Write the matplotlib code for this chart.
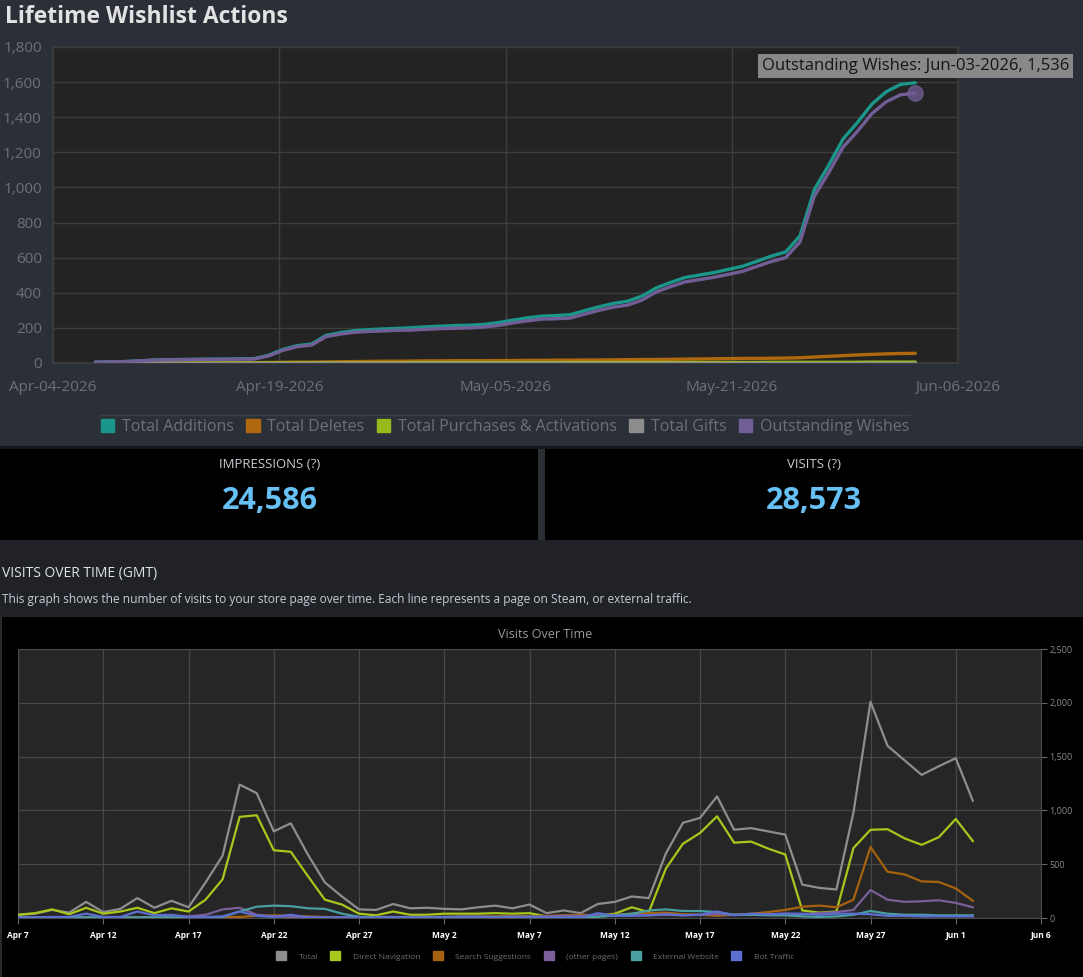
import numpy as np
import matplotlib.pyplot as plt
import matplotlib.dates as mdates
from matplotlib.patches import Rectangle, Patch
from matplotlib.lines import Line2D
from matplotlib.ticker import FuncFormatter

plt.rcParams['font.family'] = ['Open Sans', 'DejaVu Sans']

W, H = 1083, 977

# ---- Lifetime wishlist actions, cumulative per day (Apr-07 .. Jun-03-2026)
wish_days = np.arange('2026-04-07', '2026-06-04', dtype='datetime64[D]')
total_additions = [5, 6, 8, 12, 17, 19, 20, 21, 22, 22, 24, 25,
                   44, 77, 99, 108, 157, 173, 184, 190, 194, 197, 201, 206, 210, 213, 215, 220,
                   230, 244, 257, 267, 270, 275, 298, 320, 339, 352,
                   381, 428, 459, 487, 501, 515, 533, 551, 579, 609,
                   632, 724, 988, 1127, 1276, 1370, 1474, 1545, 1587, 1596]
total_deletes = [0, 0, 0, 0, 1, 1, 1, 1,
                 1, 1, 2, 2, 3, 4, 5, 5, 6, 7,
                 8, 9, 10, 10, 11, 12, 12, 13, 13, 13,
                 14, 14, 15, 15, 16, 16, 17, 17, 18, 19,
                 20, 20, 21, 22, 23, 24, 25, 26, 26, 27,
                 28, 30, 34, 38, 42, 46, 49, 52, 54, 55]
total_purchases = [0, 0, 0, 0, 0, 0, 0, 0,
                   0, 0, 0, 0, 1, 1, 1, 1, 1, 1,
                   1, 1, 1, 1, 2, 2, 2, 2, 2, 2,
                   2, 2, 2, 2, 2, 3, 3, 3, 3, 3,
                   3, 3, 3, 3, 3, 3, 3, 3, 3, 4,
                   4, 4, 4, 4, 4, 4, 5, 5, 5, 5]
total_gifts = [0] * len(total_additions)
outstanding_wishes = [5, 6, 8, 12, 16, 18, 19, 20, 21, 21, 22, 23,
                      40, 72, 93, 102, 150, 165, 175, 180, 183, 186, 188, 192, 196, 198, 200, 205,
                      214, 228, 240, 250, 252, 256, 278, 300, 318, 330,
                      358, 405, 435, 462, 475, 488, 505, 522, 550, 578,
                      600, 690, 950, 1085, 1230, 1320, 1420, 1488, 1528, 1536]
wish_tick_labels = ['Apr-04-2026', 'Apr-19-2026', 'May-05-2026', 'May-21-2026', 'Jun-06-2026']

impressions = 24586
visits = 28573

# ---- Visits over time, per day (Apr 7 .. Jun 2)
visit_days = np.arange('2026-04-07', '2026-06-03', dtype='datetime64[D]')
visits_total = [30, 40, 75, 50, 150, 55, 85, 185, 95, 160, 100, 330, 580, 1240, 1160, 805, 880,
                590, 330, 200, 80, 75, 130, 90, 95, 85, 80, 100, 115, 90, 125, 45, 70, 45,
                130, 150, 200, 185, 600, 885, 930, 1130, 820, 835, 805, 775, 310, 280, 265,
                980, 2010, 1600, 1465, 1330, 1410, 1485, 1090]
visits_direct = [30, 45, 80, 35, 95, 40, 60, 95, 45, 90, 60, 170, 360, 940, 955, 630, 615,
                 390, 170, 125, 40, 25, 60, 30, 30, 40, 40, 40, 45, 40, 45, 15, 20, 15,
                 20, 40, 100, 55, 460, 690, 790, 945, 700, 710, 645, 590, 70, 50, 60,
                 650, 820, 825, 740, 680, 750, 920, 715]
visits_search = [3, 3, 5, 5, 5, 5, 5, 5, 5, 5, 5, 5, 8, 10, 20, 25, 20,
                 15, 10, 5, 5, 5, 5, 8, 10, 10, 12, 15, 15, 20, 15, 20, 25, 30,
                 25, 30, 40, 45, 50, 35, 30, 20, 30, 40, 55, 75, 105, 115, 100,
                 170, 660, 430, 405, 340, 335, 275, 160]
visits_other = [5, 5, 5, 5, 5, 5, 5, 5, 5, 10, 15, 30, 80, 95, 30, 15, 10,
                10, 5, 5, 5, 10, 10, 10, 10, 10, 15, 15, 10, 15, 15, 15, 20, 20,
                25, 25, 30, 25, 30, 25, 30, 35, 30, 30, 35, 40, 35, 45, 55,
                75, 260, 170, 150, 155, 165, 140, 100]
visits_external = [5, 5, 5, 5, 5, 5, 5, 5, 5, 5, 5, 5, 10, 60, 105, 115, 110,
                   90, 85, 40, 10, 5, 5, 5, 5, 5, 5, 5, 5, 5, 5, 5, 5, 5,
                   10, 25, 40, 70, 80, 65, 65, 55, 30, 30, 25, 25, 15, 10, 15,
                   30, 65, 40, 30, 30, 25, 25, 25]
visits_bot = [5, 5, 10, 10, 40, 10, 10, 60, 25, 30, 10, 10, 15, 60, 20, 10, 30,
              5, 5, 5, 5, 5, 5, 5, 5, 5, 5, 5, 5, 5, 5, 5, 5, 5,
              45, 20, 20, 25, 35, 25, 30, 60, 25, 40, 35, 40, 40, 30, 40,
              40, 35, 20, 20, 15, 15, 15, 15]


def fig_rect(x0, y0, x1, y1):
    return [x0 / W, 1 - y1 / H, (x1 - x0) / W, (y1 - y0) / H]


def fill(x0, y0, x1, y1, color):
    fig.add_artist(Rectangle((x0 / W, 1 - y1 / H), (x1 - x0) / W, (y1 - y0) / H,
                             transform=fig.transFigure, color=color, lw=0, zorder=-5))


def fig_text(x, y, s, **kw):
    return fig.text(x / W, 1 - y / H, s, **kw)


fig = plt.figure(figsize=(W / 100, H / 100), dpi=100)
fig.patch.set_facecolor('#2b2f38')

# page backgrounds
fill(0, 446, W, 449, '#15171b')
fill(0, 449, W, 540, '#2b2e35')
fill(0, 449, 538, 540, '#000000')
fill(545, 449, W, 540, '#000000')
fill(0, 540, W, 617, '#202228')
fill(0, 617, W, H, '#000000')
fill(0, 617, 2, H, '#2a2a2a')

# ---------------- Lifetime Wishlist Actions ----------------
fig_text(5, 17, 'Lifetime Wishlist Actions', fontsize=16.5, fontweight='bold',
         color='#e2e2e2', va='center')

ax1 = fig.add_axes(fig_rect(53, 47, 958, 363))
ax1.set_facecolor('#232323')
wish_series = [
    ('Total Additions', total_additions, '#1a968a'),
    ('Total Deletes', total_deletes, '#b0680f'),
    ('Total Purchases & Activations', total_purchases, '#97ba1f'),
    ('Total Gifts', total_gifts, '#8c8c8c'),
    ('Outstanding Wishes', outstanding_wishes, '#725e96'),
]
for label, vals, color in wish_series:
    ax1.plot(wish_days, vals, color=color, lw=2.4, solid_joinstyle='round', zorder=3)
ax1.plot(wish_days[-1], outstanding_wishes[-1], 'o', ms=11, color='#725e96', alpha=0.75, zorder=4)

start = mdates.date2num(np.datetime64('2026-04-04'))
ax1.set_xlim(start, start + 63)
ax1.set_xticks(start + np.linspace(0, 63, 5), wish_tick_labels)
ax1.set_ylim(0, 1800)
ax1.set_yticks(range(0, 1801, 200))
ax1.yaxis.set_major_formatter(FuncFormatter(lambda v, p: f'{v:,.0f}'))
ax1.grid(color='#3e3e3e', lw=1)
ax1.set_axisbelow(True)
ax1.tick_params(length=0, colors='#6c7079', labelsize=11)
ax1.tick_params(axis='x', pad=12)
ax1.tick_params(axis='y', pad=8)
for s in ax1.spines.values():
    s.set_color('#3a3a3a')
    s.set_linewidth(1.5)

handles = [Patch(color=c) for _, _, c in wish_series]
ax1.legend(handles, [l for l, _, _ in wish_series], loc='center',
           bbox_to_anchor=(505 / W, 1 - 427 / H), bbox_transform=fig.transFigure,
           ncol=5, frameon=False, fontsize=11.5, labelcolor='#6c7079',
           handlelength=0.85, handleheight=0.85, handletextpad=0.5, columnspacing=0.75)
fig.add_artist(Line2D([100 / W, 910 / W], [1 - 415 / H] * 2, color='#3c4049', lw=1,
                      transform=fig.transFigure))

fig_text(762, 66, 'Outstanding Wishes: Jun-03-2026, 1,536', fontsize=12, color='#151515',
         va='center', zorder=10,
         bbox=dict(boxstyle='square,pad=0.22', fc='#8e8e8e', ec='none', alpha=0.95))

# ---------------- KPI boxes ----------------
fig_text(270, 465, 'IMPRESSIONS (?)', fontsize=9.5, color='#c6cbd2', ha='center', va='center')
fig_text(270, 501, f'{impressions:,}', fontsize=22, fontweight='bold', color='#66c0f4',
         ha='center', va='center')
fig_text(814, 465, 'VISITS (?)', fontsize=9.5, color='#c6cbd2', ha='center', va='center')
fig_text(814, 501, f'{visits:,}', fontsize=22, fontweight='bold', color='#66c0f4',
         ha='center', va='center')

fig_text(2, 574, 'VISITS OVER TIME (GMT)', fontsize=10, color='#dfe3e6', va='center')
fig_text(2, 600, 'This graph shows the number of visits to your store page over time. '
         'Each line represents a page on Steam, or external traffic.',
         fontsize=8.6, color='#c6cbd2', va='center')

# ---------------- Visits Over Time ----------------
fig_text(545, 634, 'Visits Over Time', fontsize=9, color='#9a9a9a', ha='center', va='center')

ax2 = fig.add_axes(fig_rect(18, 649, 1041, 918))
ax2.set_facecolor('#262626')
visit_series = [
    ('Total', visits_total, '#8e8e8e'),
    ('Direct Navigation', visits_direct, '#a6c81c'),
    ('Search Suggestions', visits_search, '#a6620f'),
    ('(other pages)', visits_other, '#7b5f99'),
    ('External Website', visits_external, '#4a9fa3'),
    ('Bot Traffic', visits_bot, '#5c6fd0'),
]
for label, vals, color in visit_series:
    ax2.plot(visit_days, vals, color=color, lw=1.6, zorder=3)

vstart = mdates.date2num(np.datetime64('2026-04-07'))
ax2.set_xlim(vstart, vstart + 60)
ax2.set_xticks(vstart + np.arange(0, 61, 5))
ax2.xaxis.set_major_formatter(FuncFormatter(
    lambda v, p: mdates.num2date(v).strftime('%b ') + str(mdates.num2date(v).day)))
ax2.set_ylim(0, 2500)
ax2.set_yticks(range(0, 2501, 500))
ax2.yaxis.set_major_formatter(FuncFormatter(lambda v, p: f'{v:,.0f}'))
ax2.yaxis.tick_right()
ax2.grid(color='#484848', lw=0.9)
ax2.set_axisbelow(True)
ax2.tick_params(axis='x', length=4, color='#666666', labelcolor='#ffffff', labelsize=6, pad=5)
ax2.tick_params(axis='y', length=4, color='#666666', labelcolor='#8a8a8a', labelsize=6.5, pad=2)
for lab in ax2.get_xticklabels():
    lab.set_fontweight('bold')
for s in ax2.spines.values():
    s.set_color('#4a4a4a')

handles2 = [Patch(color=c) for _, _, c in visit_series]
ax2.legend(handles2, [l for l, _, _ in visit_series], loc='center',
           bbox_to_anchor=(535 / W, 1 - 956 / H), bbox_transform=fig.transFigure,
           ncol=6, frameon=False, fontsize=6, labelcolor='#6f6f6f',
           handlelength=1.2, handleheight=1.2, handletextpad=1.5, columnspacing=1.5)

fig.savefig('out.png', dpi=100, facecolor=fig.get_facecolor())
